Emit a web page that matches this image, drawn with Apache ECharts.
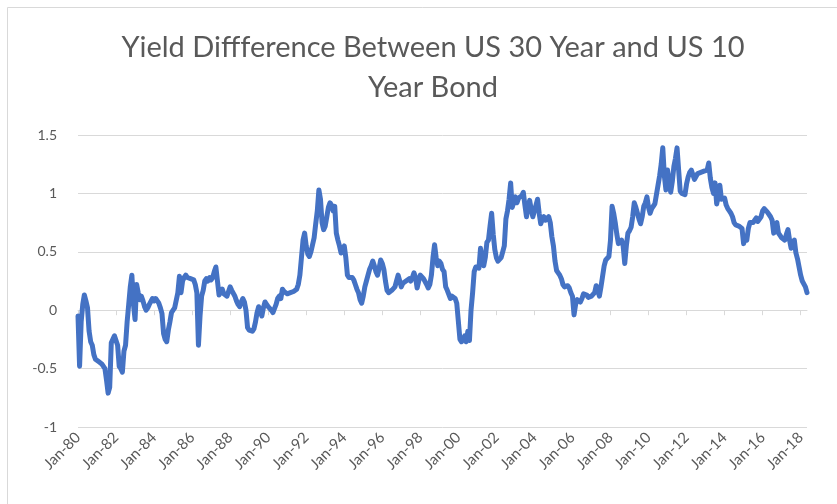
<!DOCTYPE html>
<html>
<head>
<meta charset="utf-8">
<title>Yield Diffference Between US 30 Year and US 10 Year Bond</title>
<script src="https://cdn.jsdelivr.net/npm/echarts@6/dist/echarts.min.js"></script>
<style>
  html, body { margin: 0; padding: 0; background: #ffffff; }
  #chart { width: 837px; height: 504px; }
</style>
</head>
<body>
<div id="chart"></div>
<script>
// Monthly spread (30Y yield minus 10Y yield, percentage points), Jan 1980 - May 2018
const firstYear = 1980;
const monthNames = ['Jan','Feb','Mar','Apr','May','Jun','Jul','Aug','Sep','Oct','Nov','Dec'];
const spread = [
  // 1980
  -0.05, -0.48, -0.10, 0.05, 0.13, 0.08, 0.02, -0.18, -0.27, -0.30, -0.38, -0.42,
  // 1981
  -0.43, -0.44, -0.45, -0.46, -0.47, -0.50, -0.60, -0.71, -0.66, -0.28, -0.25, -0.22,
  // 1982
  -0.21, -0.30, -0.48, -0.50, -0.53, -0.35, -0.30, -0.10, 0.05, 0.20, 0.30, 0.05,
  // 1983
  -0.08, 0.22, 0.15, 0.09, 0.12, 0.08, 0.03, 0.00, 0.02, 0.05, 0.05, 0.10,
  // 1984
  0.08, 0.10, 0.11, 0.06, 0.02, -0.03, -0.20, -0.25, -0.27, -0.17, -0.10, -0.02,
  // 1985
  0.00, 0.02, 0.03, 0.15, 0.29, 0.15, 0.25, 0.28, 0.30, 0.28, 0.29, 0.27,
  // 1986
  0.28, 0.26, 0.22, 0.15, -0.30, -0.05, 0.12, 0.17, 0.25, 0.27, 0.25, 0.28,
  // 1987
  0.26, 0.28, 0.33, 0.37, 0.25, 0.13, 0.16, 0.18, 0.14, 0.13, 0.12, 0.16,
  // 1988
  0.20, 0.17, 0.18, 0.12, 0.08, 0.05, 0.03, 0.07, 0.10, 0.07, 0.00, -0.15,
  // 1989
  -0.17, -0.18, -0.18, -0.16, -0.10, -0.02, 0.03, 0.00, -0.05, 0.02, 0.07, 0.05,
  // 1990
  0.03, 0.03, 0.00, -0.02, -0.02, 0.05, 0.10, 0.12, 0.10, 0.18, 0.16, 0.15,
  // 1991
  0.14, 0.14, 0.15, 0.15, 0.16, 0.17, 0.18, 0.22, 0.30, 0.45, 0.60, 0.66,
  // 1992
  0.55, 0.48, 0.46, 0.50, 0.56, 0.62, 0.74, 0.85, 1.03, 0.95, 0.75, 0.69,
  // 1993
  0.72, 0.80, 0.88, 0.92, 0.90, 0.85, 0.89, 0.66, 0.60, 0.55, 0.49, 0.50,
  // 1994
  0.55, 0.45, 0.30, 0.28, 0.29, 0.28, 0.26, 0.22, 0.18, 0.15, 0.09, 0.06,
  // 1995
  0.12, 0.20, 0.25, 0.30, 0.35, 0.38, 0.42, 0.38, 0.33, 0.30, 0.36, 0.43,
  // 1996
  0.40, 0.35, 0.25, 0.17, 0.15, 0.16, 0.17, 0.18, 0.20, 0.25, 0.30, 0.25,
  // 1997
  0.20, 0.23, 0.24, 0.25, 0.26, 0.27, 0.25, 0.28, 0.32, 0.28, 0.19, 0.25,
  // 1998
  0.30, 0.30, 0.27, 0.26, 0.22, 0.19, 0.22, 0.30, 0.45, 0.56, 0.45, 0.38,
  // 1999
  0.42, 0.40, 0.35, 0.33, 0.20, 0.17, 0.16, 0.10, 0.12, 0.13, 0.10, 0.06,
  // 2000
  0.05, -0.25, -0.27, -0.26, -0.22, -0.27, -0.18, -0.26, 0.00, 0.15, 0.33, 0.37,
  // 2001
  0.38, 0.36, 0.53, 0.45, 0.38, 0.45, 0.58, 0.60, 0.72, 0.83, 0.65, 0.52,
  // 2002
  0.45, 0.42, 0.43, 0.45, 0.50, 0.55, 0.78, 0.85, 0.95, 1.09, 0.88, 0.93,
  // 2003
  0.97, 0.92, 0.96, 0.95, 0.98, 1.01, 0.90, 0.80, 0.88, 0.94, 0.86, 0.80,
  // 2004
  0.85, 0.90, 0.95, 0.83, 0.74, 0.78, 0.80, 0.77, 0.78, 0.80, 0.75, 0.63,
  // 2005
  0.55, 0.42, 0.34, 0.32, 0.30, 0.27, 0.22, 0.20, 0.20, 0.21, 0.19, 0.15,
  // 2006
  0.12, -0.04, 0.05, 0.09, 0.08, 0.07, 0.10, 0.14, 0.15, 0.13, 0.11, 0.11,
  // 2007
  0.12, 0.11, 0.15, 0.21, 0.17, 0.12, 0.20, 0.29, 0.38, 0.43, 0.42, 0.46,
  // 2008
  0.60, 0.89, 0.83, 0.75, 0.65, 0.57, 0.58, 0.60, 0.55, 0.40, 0.55, 0.66,
  // 2009
  0.68, 0.71, 0.80, 0.92, 0.88, 0.83, 0.78, 0.74, 0.80, 0.89, 0.92, 0.97,
  // 2010
  0.88, 0.83, 0.87, 0.89, 0.91, 0.90, 1.07, 1.15, 1.25, 1.39, 1.15, 1.03,
  // 2011
  1.20, 1.10, 1.01, 1.10, 1.23, 1.30, 1.39, 1.20, 1.02, 1.00, 1.00, 0.99,
  // 2012
  1.08, 1.14, 1.18, 1.20, 1.16, 1.12, 1.13, 1.17, 1.17, 1.18, 1.18, 1.19,
  // 2013
  1.18, 1.20, 1.26, 1.13, 1.05, 1.00, 1.09, 0.91, 0.98, 1.07, 0.95, 0.94,
  // 2014
  0.96, 0.90, 0.87, 0.85, 0.83, 0.80, 0.75, 0.73, 0.72, 0.72, 0.71, 0.70,
  // 2015
  0.57, 0.62, 0.60, 0.70, 0.75, 0.74, 0.75, 0.77, 0.79, 0.76, 0.75, 0.80,
  // 2016
  0.85, 0.87, 0.86, 0.84, 0.83, 0.80, 0.77, 0.66, 0.72, 0.75, 0.66, 0.64,
  // 2017
  0.62, 0.61, 0.60, 0.65, 0.69, 0.60, 0.53, 0.57, 0.60, 0.49, 0.44, 0.37,
  // 2018
  0.30, 0.25, 0.24, 0.20, 0.15
];
const yMin = -1;
const yMax = 1.5;
const yStep = 0.5;

// Category labels such as "Jan-80", one per month
const categories = spread.map(function (_, i) {
  const year = firstYear + Math.floor(i / 12);
  return monthNames[i % 12] + '-' + String(year % 100).padStart(2, '0');
});

const chart = echarts.init(document.getElementById('chart'), null, { renderer: 'canvas' });
const grey = '#d9d9d9';
const textGrey = '#595959';

chart.setOption({
  animation: false,
  backgroundColor: '#ffffff',
  title: {
    text: 'Yield Diffference Between US 30 Year and US 10\nYear Bond',
    left: 428,
    top: 23,
    textAlign: 'center',
    textStyle: {
      fontFamily: 'Lato',
      fontWeight: 'normal',
      fontSize: 29,
      color: textGrey,
      lineHeight: 40
    }
  },
  graphic: [
    { type: 'line', silent: true, shape: { x1: 7.5, y1: 7.5, x2: 837, y2: 7.5 }, style: { stroke: grey, lineWidth: 1 } },
    { type: 'line', silent: true, shape: { x1: 7.5, y1: 7.5, x2: 7.5, y2: 504 }, style: { stroke: grey, lineWidth: 1 } }
  ],
  grid: { left: 78, right: 30, top: 135, bottom: 77, containLabel: false },
  xAxis: {
    type: 'category',
    data: categories,
    boundaryGap: false,
    axisLine: { show: true, lineStyle: { color: grey, width: 1 } },
    axisTick: { show: true, interval: 23, length: 5, lineStyle: { color: grey } },
    axisLabel: {
      interval: 23,
      rotate: 45,
      margin: 8,
      color: textGrey,
      fontFamily: 'Lato',
      fontSize: 15
    },
    splitLine: { show: false }
  },
  yAxis: {
    type: 'value',
    min: yMin,
    max: yMax,
    interval: yStep,
    axisLine: { show: false },
    axisTick: { show: false },
    axisLabel: {
      color: textGrey,
      fontFamily: 'Lato',
      fontSize: 14,
      margin: 21
    },
    splitLine: { lineStyle: { color: grey, width: 1 } }
  },
  series: [{
    type: 'line',
    data: spread,
    showSymbol: false,
    symbol: 'none',
    lineStyle: { color: '#4472c4', width: 5, join: 'round', cap: 'round' },
    itemStyle: { color: '#4472c4' }
  }]
});
</script>
</body>
</html>
